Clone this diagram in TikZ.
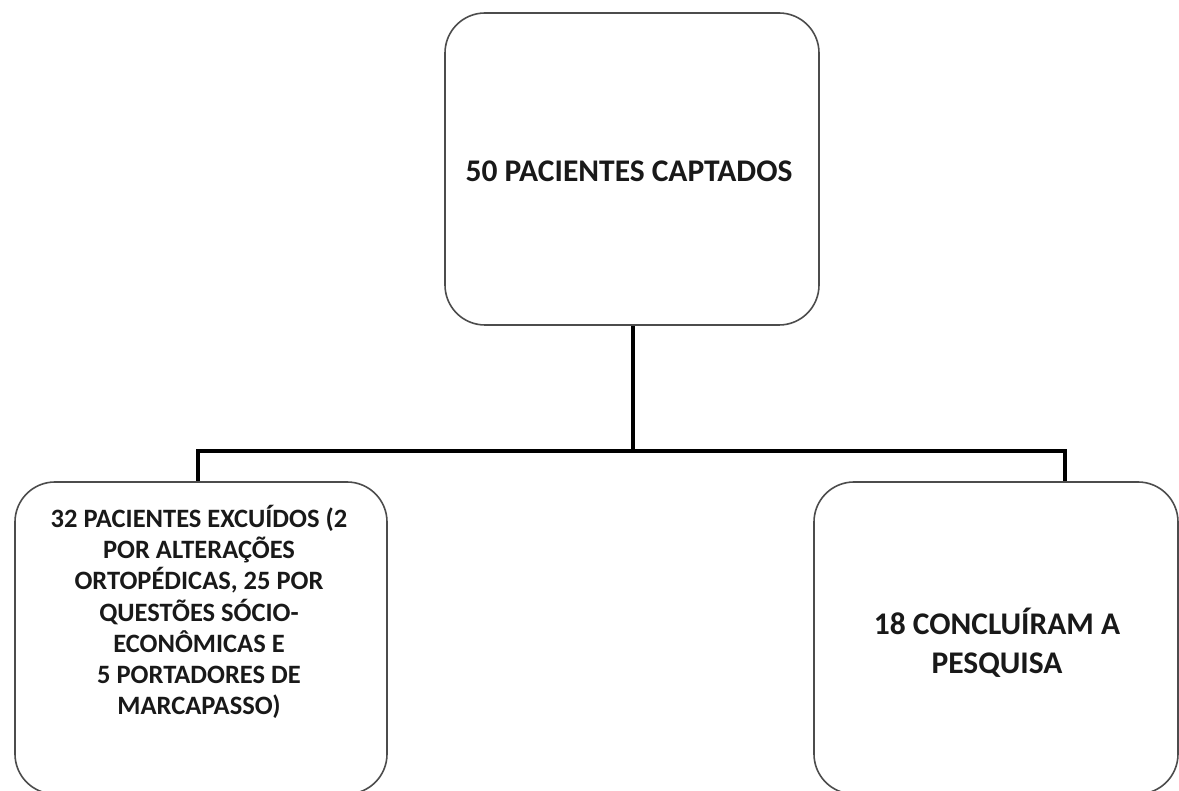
\documentclass[tikz,border=0pt]{standalone}
\usepackage{fontspec}
\setmainfont{Carlito}
\begin{document}
\begin{tikzpicture}[x=1pt,y=-1pt,
  box/.style={draw=black!70, line width=1.6pt, rounded corners=40pt, fill=white},
  conn/.style={draw=black, line width=4pt},
  big/.style={font=\fontsize{31.5}{39}\selectfont\bfseries, align=center, text=black!90},
  small/.style={font=\fontsize{26.5}{31.2}\selectfont\bfseries, align=center, text=black!90}]
\path[use as bounding box] (0,0) rectangle (1179,791);
\clip (0,0) rectangle (1179,791);
\fill[white] (0,0) rectangle (1179,791);
% boxes
\node[box, minimum width=374pt, minimum height=312pt] (top) at (632,169) {};
\node[box, minimum width=372pt, minimum height=312pt] (left) at (201,638) {};
\node[box, minimum width=364pt, minimum height=312pt] (right) at (996,638) {};
% texts
\node[big] (toptext) at (629,171) {50 PACIENTES CAPTADOS};
\node[small] (lefttext) at (199,612) {32 PACIENTES EXCUÍDOS (2\\POR ALTERAÇÕES\\ORTOPÉDICAS, 25 POR\\QUESTÕES SÓCIO-\\ECONÔMICAS E\\5 PORTADORES DE\\MARCAPASSO)};
\node[big] (righttext) at (997,643) {18 CONCLUÍRAM A\\PESQUISA};
% connectors
\coordinate (junction) at (633,451);
\coordinate (ljoin) at (198,451);
\coordinate (rjoin) at (1065,451);
\draw[conn] (top.south -| junction) -- (junction);
\draw[conn, line cap=rect] (ljoin) -- (rjoin);
\draw[conn] (ljoin) -- (ljoin |- left.north);
\draw[conn] (rjoin) -- (rjoin |- right.north);
\end{tikzpicture}
\end{document}
